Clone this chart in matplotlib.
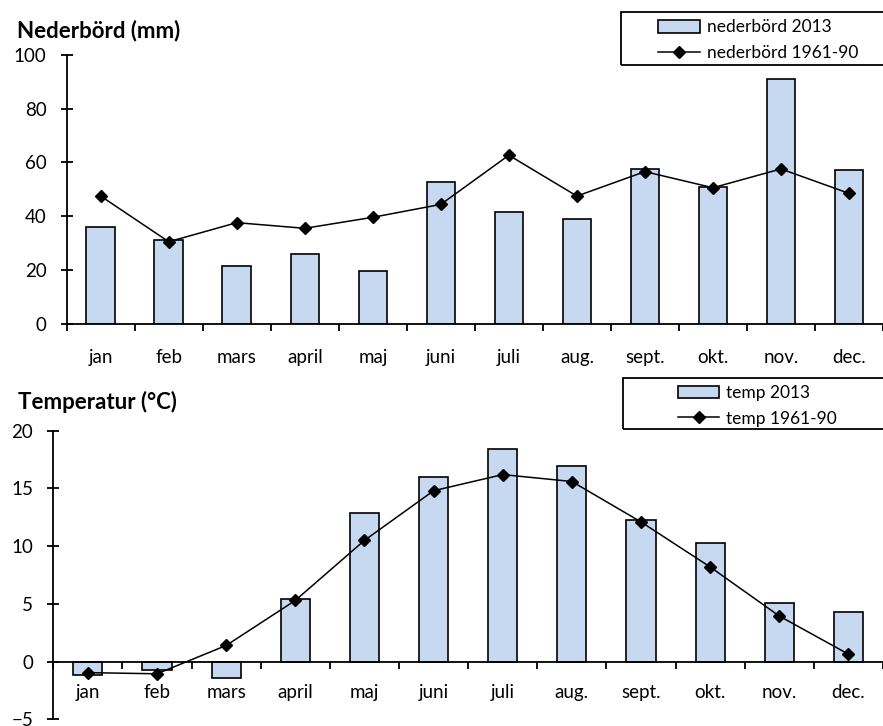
import matplotlib.pyplot as plt
from matplotlib.patches import Rectangle
import numpy as np

plt.rcParams['font.family'] = ['Lato', 'DejaVu Sans']

months = ['jan', 'feb', 'mars', 'april', 'maj', 'juni',
          'juli', 'aug.', 'sept.', 'okt.', 'nov.', 'dec.']

# precipitation (mm)
rain_2013 = [36.0, 31.0, 21.6, 26.1, 19.7, 52.7, 41.6, 39.1, 57.7, 50.9, 91.2, 57.1]
rain_normal = [47.5, 30.5, 37.6, 35.5, 39.6, 44.4, 62.7, 47.5, 56.6, 50.6, 57.6, 48.5]

# mean temperature (deg C)
temp_2013 = [-1.15, -0.7, -1.45, 5.4, 12.9, 16.0, 18.4, 16.9, 12.3, 10.3, 5.1, 4.3]
temp_normal = [-0.95, -1.05, 1.4, 5.3, 10.5, 14.8, 16.2, 15.6, 12.1, 8.2, 3.95, 0.65]

W, H = 883, 726
BAR_FC = '#c6d9f1'

fig = plt.figure(figsize=(W / 100, H / 100), dpi=100)


def px_axes(left, right, top, bottom):
    return fig.add_axes([left / W, 1 - bottom / H, (right - left) / W, (bottom - top) / H])


def style(ax, xmax, ylim, step):
    x = np.arange(len(months))
    ax.set_xlim(-0.5, xmax)
    ax.set_ylim(*ylim)
    for s in ('top', 'right'):
        ax.spines[s].set_visible(False)
    for s in ('left', 'bottom'):
        ax.spines[s].set_linewidth(1.3)
    ax.set_xticks(np.arange(-0.5, 12, 1))
    ax.set_xticklabels([])
    ax.set_xticks(x, minor=True)
    ax.set_xticklabels(months, minor=True)
    ax.tick_params(axis='x', which='major', direction='out', length=5, width=1.3)
    ax.tick_params(axis='x', which='minor', length=0, pad=18, labelsize=13.5)
    ax.set_yticks(np.arange(ylim[0], ylim[1] + 1, step))
    ax.tick_params(axis='y', direction='inout', length=9, width=1.3, pad=10, labelsize=13.5)


def legend_box(ax, handles, labels, hx, hy, box):
    leg = ax.legend(handles, labels, loc='upper left', bbox_to_anchor=(hx / W, 1 - hy / H),
                    bbox_transform=fig.transFigure, frameon=False, fontsize=12.5,
                    borderpad=0, borderaxespad=0, handlelength=2.4, handletextpad=0.4,
                    labelspacing=0.55)
    bx0, by0, bx1, by1 = box
    fig.add_artist(Rectangle((bx0 / W, 1 - by1 / H), (bx1 - bx0) / W, (by1 - by0) / H,
                             transform=fig.transFigure, fill=False, lw=1.3,
                             edgecolor='black', clip_on=False))
    return leg


x = np.arange(len(months))

# precipitation panel
ax1 = px_axes(66.7, W, 55.0, 323.7)
b1 = ax1.bar(x, rain_2013, width=0.42, color=BAR_FC, edgecolor='black', linewidth=1.2, zorder=2)
l1, = ax1.plot(x, rain_normal, color='black', lw=1.1, marker='D', markersize=6.5, zorder=3)
style(ax1, -0.5 + (W - 66.7) / 68.4, (0, 100), 20)
fig.text(17 / W, 1 - 31 / H, 'Nederbörd (mm)', fontsize=16, fontweight='bold', va='center')
legend_box(ax1, [b1, l1], ['nederbörd 2013', 'nederbörd 1961-90'], 658, 19.5, (621, 11.7, 895, 65))

# temperature panel
ax2 = px_axes(53.3, W, 430.7, 719.4)
b2 = ax2.bar(x, temp_2013, width=0.42, color=BAR_FC, edgecolor='black', linewidth=1.2, zorder=2)
l2, = ax2.plot(x, temp_normal, color='black', lw=1.1, marker='D', markersize=6.5, zorder=3)
style(ax2, -0.5 + (W - 53.3) / 69.6, (-5, 20), 5)
ax2.spines['bottom'].set_position(('data', 0))
ax2.tick_params(axis='x', which='minor', pad=16)
fig.text(17.5 / W, 1 - 402 / H, 'Temperatur (°C)', fontsize=16, fontweight='bold', va='center')
legend_box(ax2, [b2, l2], ['temp 2013', 'temp 1961-90'], 677.7, 385, (622.7, 377.7, 895, 429.3))

fig.savefig('out.png', dpi=100)
